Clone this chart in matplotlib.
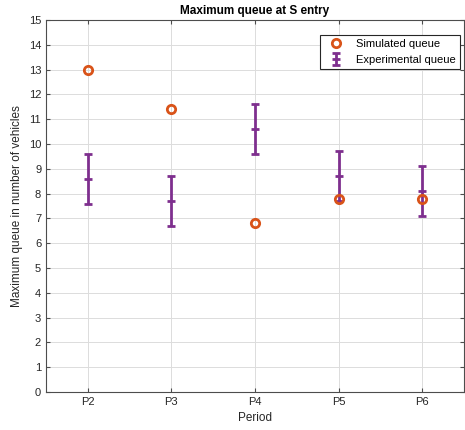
import numpy as np
import matplotlib
matplotlib.use("Agg")
import matplotlib.pyplot as plt

periods = ["P2", "P3", "P4", "P5", "P6"]
simulated = [13.0, 11.4, 6.8, 7.8, 7.8]
experimental = [8.6, 7.7, 10.6, 8.7, 8.1]
exp_err = [1.0, 1.0, 1.0, 1.0, 1.0]

plt.rcParams["font.family"] = ["Liberation Sans", "DejaVu Sans"]
plt.rcParams["font.size"] = 8

fig = plt.figure(figsize=(4.65, 4.3), dpi=100)
ax = fig.add_axes([46 / 465, 1 - 392 / 430, (464 - 46) / 465, (392 - 20) / 430])

x = np.arange(1, len(periods) + 1)
ax.plot(x, simulated, "o", mfc="none", mec="#D95319", mew=2, ms=6,
        label="Simulated queue", zorder=3)
ax.errorbar(x, experimental, yerr=exp_err, fmt="_", color="#7E2F8E",
            ecolor="#7E2F8E", elinewidth=2, capsize=3, capthick=2, ms=6, mew=2,
            label="Experimental queue", zorder=2)

ax.set_xlim(0.5, 5.5)
ax.set_ylim(0, 15)
ax.set_yticks(range(0, 16))
ax.set_xticks(x)
ax.set_xticklabels(periods)
ax.grid(True, color="#dcdcdc", linewidth=0.7)
ax.set_axisbelow(True)
ax.tick_params(direction="in", length=3, color="#4d4d4d", labelcolor="#262626",
               top=True, right=True)
for s in ax.spines.values():
    s.set_color("#4d4d4d")
    s.set_linewidth(0.8)

ax.set_title("Maximum queue at S entry", fontweight="bold", fontsize=8.5, pad=4)
ax.set_xlabel("Period", fontsize=8.5, color="#262626")
ax.set_ylabel("Maximum queue in number of vehicles", fontsize=8.5, color="#262626")
leg = ax.legend(loc="upper right", bbox_to_anchor=(0.99, 0.96), fancybox=False,
                edgecolor="#262626", framealpha=1, fontsize=8, borderaxespad=0.0)
leg.get_frame().set_linewidth(0.8)

fig.savefig("out.png", dpi=100)
